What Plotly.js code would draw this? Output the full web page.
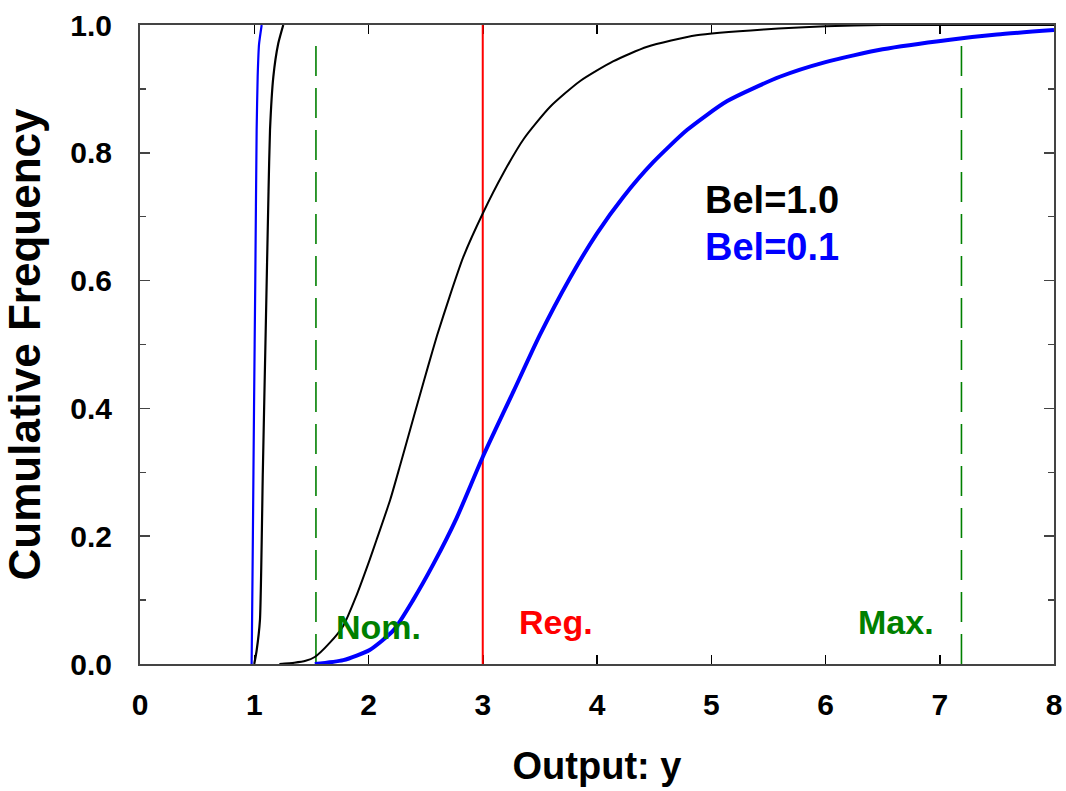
<!DOCTYPE html>
<html>
<head>
<meta charset="utf-8">
<script src="https://cdn.plot.ly/plotly-3.0.1.min.js"></script>
<style>html,body{margin:0;padding:0;background:#fff;}#chart{width:1066px;height:791px;}</style>
</head>
<body>
<div id="chart"></div>
<script>
// Bel=1.0 (black) – steep lower curve and main curve
const blackSteepX = [1.0, 1.02, 1.05, 1.075, 1.1, 1.125, 1.138, 1.167, 1.21, 1.254];
const blackSteepY = [0, 0.02, 0.069, 0.30, 0.52, 0.74, 0.836, 0.919, 0.971, 1.0];
const blackMainX = [1.22, 1.35, 1.45, 1.53, 1.66, 1.78, 1.89, 2.01, 2.07, 2.19, 2.28, 2.36, 2.45, 2.52, 2.60, 2.71, 2.83, 3.0, 3.18, 3.36, 3.59, 3.85, 4.14, 4.44, 4.87, 5.46, 6.0, 6.5, 7.0, 8.0];
const blackMainY = [0, 0.002, 0.005, 0.011, 0.033, 0.06, 0.105, 0.163, 0.194, 0.257, 0.313, 0.364, 0.421, 0.465, 0.514, 0.575, 0.637, 0.705, 0.768, 0.822, 0.872, 0.912, 0.943, 0.966, 0.984, 0.993, 0.998, 1.0, 1.0, 1.0];

// Bel=0.1 (blue)
const blueSteepX = [0.977, 0.98, 0.988, 0.998, 1.009, 1.021, 1.03, 1.042, 1.065];
const blueSteepY = [0, 0.05, 0.2, 0.4, 0.6, 0.836, 0.92, 0.97, 1.0];
const blueMainX = [1.53, 1.78, 2.01, 2.22, 2.39, 2.57, 2.77, 3.0, 3.27, 3.5, 3.76, 4.0, 4.23, 4.49, 4.79, 5.14, 5.6, 6.0, 6.5, 7.09, 7.5, 8.0];
const blueMainY = [0, 0.006, 0.022, 0.053, 0.1, 0.157, 0.228, 0.324, 0.427, 0.515, 0.603, 0.674, 0.731, 0.785, 0.836, 0.881, 0.919, 0.942, 0.962, 0.977, 0.985, 0.992];

// Reference lines
const nomX = 1.54, regX = 3.0, maxX = 7.19;
const guideTop = 0.98;

const xTicks = [0, 1, 2, 3, 4, 5, 6, 7, 8];
const yTicks = [0, 0.2, 0.4, 0.6, 0.8, 1.0];
const yTickText = ['0.0', '0.2', '0.4', '0.6', '0.8', '1.0'];

const FONT = '"Liberation Sans", Arial, Helvetica, sans-serif';
const GREEN = '#008000';

const traces = [
  {x: [nomX, nomX], y: [0, guideTop], mode: 'lines', line: {color: GREEN, width: 1.6, dash: '30px,12px'}},
  {x: [maxX, maxX], y: [0, guideTop], mode: 'lines', line: {color: GREEN, width: 1.6, dash: '30px,12px'}},
  {x: [regX, regX], y: [0, 1], mode: 'lines', line: {color: '#ff0000', width: 2}},
  {x: blackSteepX, y: blackSteepY, mode: 'lines', line: {color: '#000', width: 2.2, shape: 'spline', smoothing: 0.5}},
  {x: blackMainX, y: blackMainY, mode: 'lines', line: {color: '#000', width: 2, shape: 'spline', smoothing: 0.6}},
  {x: blueSteepX, y: blueSteepY, mode: 'lines', line: {color: '#0000ff', width: 2.2, shape: 'spline', smoothing: 0.5}},
  {x: blueMainX, y: blueMainY, mode: 'lines', line: {color: '#0000ff', width: 4, shape: 'spline', smoothing: 0.6}}
];

const ann = (text, x, y, color, size) => ({
  text: text, x: x, y: y, xref: 'x', yref: 'y', showarrow: false,
  xanchor: 'center', yanchor: 'middle',
  font: {family: FONT, size: size, color: color, weight: 'bold'}
});

const layout = {
  width: 1066, height: 791,
  margin: {l: 140, r: 12, t: 25, b: 127},
  paper_bgcolor: '#fff', plot_bgcolor: '#fff',
  showlegend: false,
  xaxis: {
    range: [0, 8], tickvals: xTicks, ticks: 'inside', ticklen: 9, tickwidth: 1.5, tickcolor: '#000',
    showline: true, linecolor: '#444', linewidth: 2, mirror: 'ticks', showgrid: false, zeroline: false,
    layer: 'below traces',
    tickfont: {family: FONT, size: 30, color: '#000', weight: 'bold'},
    ticklabelstandoff: 13,
    title: {text: 'Output: y', font: {family: FONT, size: 38, color: '#000', weight: 'bold'}, standoff: 32}
  },
  yaxis: {
    range: [0, 1], tickvals: yTicks, ticktext: yTickText, ticks: 'inside', ticklen: 10, tickwidth: 1.5, tickcolor: '#444',
    minor: {dtick: 0.1, ticks: 'inside', ticklen: 6, tickwidth: 1.5, tickcolor: '#444'},
    showline: true, linecolor: '#444', linewidth: 2, mirror: 'ticks', showgrid: false, zeroline: false,
    layer: 'below traces',
    tickfont: {family: FONT, size: 30, color: '#000', weight: 'bold'},
    ticklabelstandoff: 20,
    title: {text: 'Cumulative Frequency', font: {family: FONT, size: 44, color: '#000', weight: 'bold'}, standoff: 18}
  },
  annotations: [
    ann('Bel=1.0', 5.53, 0.726, '#000', 38),
    ann('Bel=0.1', 5.53, 0.652, '#0000ff', 38),
    ann('Nom.', 2.09, 0.058, GREEN, 34),
    ann('Reg.', 3.64, 0.066, '#ff0000', 34),
    ann('Max.', 6.62, 0.066, GREEN, 34)
  ]
};

Plotly.newPlot('chart', traces, layout, {displayModeBar: false, staticPlot: true});
</script>
</body>
</html>
